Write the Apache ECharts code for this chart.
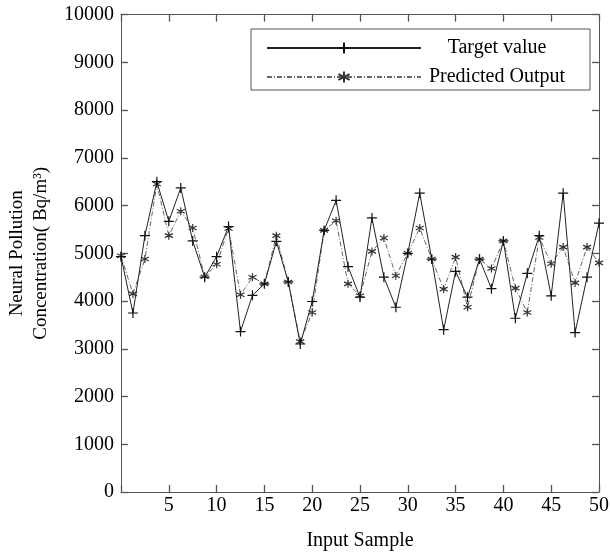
<!DOCTYPE html>
<html>
<head>
<meta charset="utf-8">
<script src="https://cdn.jsdelivr.net/npm/echarts@6/dist/echarts.min.js"></script>
<style>html,body{margin:0;padding:0;background:#fff}#c{width:610px;height:556px}</style>
</head>
<body>
<div id="c"></div>
<script>
const sampleIndex = ['1','2','3','4','5','6','7','8','9','10','11','12','13','14','15','16','17','18','19','20','21','22','23','24','25','26','27','28','29','30','31','32','33','34','35','36','37','38','39','40','41'];
const targetValues = [4930,3750,5370,6500,5670,6370,5260,4500,4930,5560,3360,4120,4360,5250,4400,3100,3990,5480,6110,4720,4080,5740,4500,3870,5000,6260,4880,3400,4620,4080,4880,4260,5260,3640,4580,5370,4110,6260,3340,4500,5630];
const predictedValues = [4950,4150,4880,6450,5370,5880,5530,4510,4770,5520,4130,4500,4360,5370,4400,3150,3760,5480,5680,4360,4110,5040,5320,4530,5000,5530,4880,4250,4920,3870,4880,4680,5260,4270,3760,5330,4780,5130,4380,5130,4800];
const xTicks = [0,5,10,15,20,25,30,35,40,45,50];
const yTicks = [0,1000,2000,3000,4000,5000,6000,7000,8000,9000,10000];

const FONT = 'Liberation Serif';
const plusSym = 'path://M0,5L10,5M5,0L5,10';
const starSym = 'path://M5,0L5,10M0.67,2.5L9.33,7.5M0.67,7.5L9.33,2.5';
const AX = '#555';

function axLine() { return {show: true, onZero: false, lineStyle: {color: AX, width: 1}}; }
function axTick() { return {show: true, inside: true, length: 7, lineStyle: {color: AX, width: 1.3}}; }

const chart = echarts.init(document.getElementById('c'), null, {renderer: 'canvas'});
chart.setOption({
  animation: false,
  backgroundColor: '#fff',
  grid: {left: 121, right: 11, top: 14.6, bottom: 64, containLabel: false, outerBoundsMode: 'none'},
  xAxis: [
    {type: 'value', position: 'bottom', min: xTicks[0], max: xTicks[xTicks.length-1], interval: 5,
     axisLine: axLine(), axisTick: axTick(), splitLine: {show: false},
     axisLabel: {color: '#000', fontFamily: FONT, fontSize: 20, margin: 4,
       formatter: v => (v === 0 ? '' : String(v))},
     name: 'Input Sample', nameLocation: 'middle', nameGap: 39,
     nameTextStyle: {color: '#000', fontFamily: FONT, fontSize: 20}},
    {type: 'value', position: 'top', min: xTicks[0], max: xTicks[xTicks.length-1], interval: 5,
     axisLine: axLine(), axisTick: axTick(), splitLine: {show: false}, axisLabel: {show: false}},
    {type: 'category', data: sampleIndex, boundaryGap: false, position: 'bottom',
     axisLine: {show: false, onZero: false}, axisTick: {show: false}, axisLabel: {show: false},
     splitLine: {show: false}}
  ],
  yAxis: [
    {type: 'value', position: 'left', min: yTicks[0], max: yTicks[yTicks.length-1], interval: 1000,
     axisLine: axLine(), axisTick: axTick(), splitLine: {show: false},
     axisLabel: {color: '#000', fontFamily: FONT, fontSize: 20, margin: 7, formatter: v => String(v)},
     name: 'Neural Pollution\nConcentration( Bq/m³)', nameLocation: 'middle', nameGap: 66,
     nameTextStyle: {color: '#000', fontFamily: FONT, fontSize: 19, lineHeight: 24}},
    {type: 'value', position: 'right', min: yTicks[0], max: yTicks[yTicks.length-1], interval: 1000,
     axisLine: axLine(), axisTick: axTick(), splitLine: {show: false}, axisLabel: {show: false}}
  ],
  legend: {
    orient: 'vertical', left: 251, top: 29,
    backgroundColor: '#fff',
    borderColor: '#555', borderWidth: 1,
    padding: [9, 22, 3, 15],
    itemWidth: 154, itemHeight: 14, itemGap: 9,
    data: ['Target value', 'Predicted Output'],
    formatter: name => '{t|' + name + '}',
    textStyle: {rich: {t: {width: 142, align: 'center', fontFamily: FONT, fontSize: 20, color: '#000', lineHeight: 20}}}
  },
  series: [
    {name: 'Target value', type: 'line', xAxisIndex: 2, yAxisIndex: 0, data: targetValues,
     symbol: plusSym, symbolSize: 10, showSymbol: true, showAllSymbol: true,
     lineStyle: {color: '#222', width: 1, type: 'solid'},
     itemStyle: {color: 'rgba(0,0,0,0)', borderColor: '#111', borderWidth: 1.2},
     z: 3},
    {name: 'Predicted Output', type: 'line', xAxisIndex: 2, yAxisIndex: 0, data: predictedValues,
     symbol: starSym, symbolSize: 8, showSymbol: true, showAllSymbol: true,
     lineStyle: {color: '#666', width: 1, type: [5, 2, 1, 2]},
     itemStyle: {color: 'rgba(0,0,0,0)', borderColor: '#333', borderWidth: 1.2},
     z: 2}
  ]
});
</script>
</body>
</html>
